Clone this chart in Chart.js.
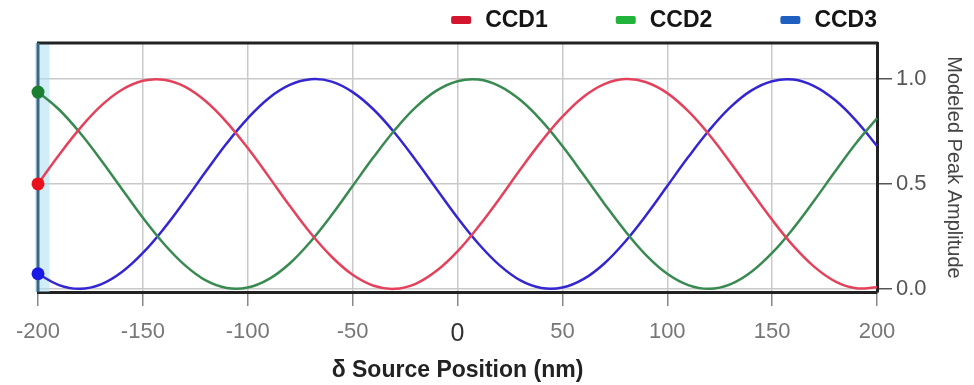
<!DOCTYPE html>
<html>
<head>
<meta charset="utf-8">
<title>Modeled Peak Amplitude</title>
<script src="https://cdn.jsdelivr.net/npm/chart.js@4/dist/chart.umd.min.js"></script>
<style>
  html, body { margin: 0; padding: 0; background: #fff; }
  #wrap { width: 974px; height: 385px; }
</style>
</head>
<body>
<div id="wrap"><canvas id="chart"></canvas></div>
<script>
// values, every 10 nm
const positions = [
  -200, -190, -180, -170, -160, -150, -140, -130, -120, -110,
  -100, -90, -80, -70, -60, -50, -40, -30, -20, -10,
  0, 10, 20, 30, 40, 50, 60, 70, 80, 90,
  100, 110, 120, 130, 140, 150, 160, 170, 180, 190, 200
];
const ccd1 = [
  0.500, 0.638, 0.765, 0.872, 0.949, 0.992, 0.997, 0.964, 0.894, 0.794,
  0.671, 0.535, 0.396, 0.265, 0.153, 0.067, 0.015, 0.000, 0.024, 0.086,
  0.179, 0.297, 0.430, 0.570, 0.703, 0.821, 0.915, 0.976, 1.000, 0.985,
  0.933, 0.847, 0.735, 0.604, 0.465, 0.329, 0.206, 0.106, 0.036, 0.003, 0.008
];
const ccd2 = [
  0.938, 0.855, 0.744, 0.614, 0.476, 0.339, 0.215, 0.113, 0.040, 0.004,
  0.006, 0.046, 0.121, 0.226, 0.352, 0.490, 0.628, 0.756, 0.865, 0.945,
  0.990, 0.998, 0.967, 0.900, 0.802, 0.681, 0.545, 0.406, 0.275, 0.160,
  0.072, 0.018, 0.000, 0.021, 0.080, 0.171, 0.287, 0.420, 0.559, 0.694, 0.813
];
const ccd3 = [
  0.072, 0.018, 0.000, 0.021, 0.080, 0.171, 0.287, 0.420, 0.559, 0.694,
  0.813, 0.909, 0.972, 0.999, 0.988, 0.938, 0.855, 0.744, 0.614, 0.476,
  0.339, 0.215, 0.113, 0.040, 0.004, 0.006, 0.046, 0.121, 0.226, 0.352,
  0.490, 0.628, 0.756, 0.865, 0.945, 0.990, 0.998, 0.967, 0.900, 0.802, 0.681
];
const seriesNames = ['CCD1', 'CCD2', 'CCD3'];
const xTicks = [-200, -150, -100, -50, 0, 50, 100, 150, 200];
const yTicks = [0, 0.5, 1.0];
// highlighted source position strip at the left edge (nm)
const bandRange = [-201.5, -194.5];

const FONT = '"Liberation Sans", Arial, Helvetica, sans-serif';

const lineColors = ['rgb(228, 66, 92)', 'rgb(56, 138, 80)', 'rgb(52, 38, 208)'];
const dotColors = ['#e8121e', '#1b7f32', '#1a1ae6'];
const legendColors = ['#d41530', '#22b33a', '#1f5fbf'];

function toPoints(values) {
  return positions.map((x, i) => ({ x, y: values[i] }));
}

function makeDataset(i, values) {
  return {
    label: seriesNames[i],
    data: toPoints(values),
    borderColor: lineColors[i],
    backgroundColor: legendColors[i],
    borderWidth: 2.5,
    tension: 0.4,
    clip: false,
    pointRadius: ctx => ctx.dataIndex === 0 ? 6.5 : 0,
    pointHoverRadius: 0,
    pointBackgroundColor: dotColors[i],
    pointBorderColor: dotColors[i],
    pointBorderWidth: 0
  };
}

// strip + top/left frame lines
const framePlugin = {
  id: 'frame',
  beforeDatasetsDraw(chart) {
    const { ctx, chartArea: a, scales } = chart;
    const x0 = scales.x.getPixelForValue(bandRange[0]);
    const x1 = scales.x.getPixelForValue(bandRange[1]);
    ctx.save();
    ctx.fillStyle = 'rgba(170, 222, 242, 0.55)';
    ctx.fillRect(x0, a.top, x1 - x0, a.bottom - a.top);
    ctx.lineWidth = 3;
    ctx.strokeStyle = '#222';
    ctx.beginPath();
    ctx.moveTo(a.left - 1, a.top);
    ctx.lineTo(a.right + 1, a.top);
    ctx.stroke();
    ctx.strokeStyle = '#3d6683';
    ctx.beginPath();
    ctx.moveTo(a.left, a.top);
    ctx.lineTo(a.left, a.bottom);
    ctx.stroke();
    ctx.restore();
  }
};

// legend row above the plot, right aligned with the frame
const legendPlugin = {
  id: 'topLegend',
  afterDraw(chart) {
    const { ctx, chartArea } = chart;
    const boxW = 20, boxH = 8, gap = 14, spacing = 68, cy = 20;
    ctx.save();
    ctx.font = 'bold 23px ' + FONT;
    ctx.textBaseline = 'middle';
    const items = chart.data.datasets.map(ds => ({
      text: ds.label,
      color: ds.backgroundColor,
      w: ctx.measureText(ds.label).width
    }));
    const total = items.reduce((s, it) => s + boxW + gap + it.w, 0) + spacing * (items.length - 1);
    let x = chartArea.right - total;
    items.forEach(it => {
      ctx.fillStyle = it.color;
      ctx.beginPath();
      ctx.roundRect(x, cy - boxH / 2, boxW, boxH, 2);
      ctx.fill();
      ctx.fillStyle = '#151515';
      ctx.fillText(it.text, x + boxW + gap, cy + 1);
      x += boxW + gap + it.w + spacing;
    });
    ctx.restore();
  }
};

new Chart(document.getElementById('chart'), {
  type: 'line',
  data: {
    datasets: [makeDataset(0, ccd1), makeDataset(1, ccd2), makeDataset(2, ccd3)]
  },
  options: {
    responsive: true,
    maintainAspectRatio: false,
    animation: false,
    layout: { padding: { top: 43, left: 38, right: 0, bottom: 0 } },
    plugins: {
      legend: { display: false },
      tooltip: { enabled: false }
    },
    scales: {
      x: {
        type: 'linear',
        min: -200,
        max: 200,
        afterBuildTicks: s => { s.ticks = xTicks.map(v => ({ value: v })); },
        afterFit: s => { s.height = 93; },
        border: { color: '#222', width: 3 },
        grid: { color: '#c9c9c9', lineWidth: 1.5, tickColor: '#888', tickLength: 14 },
        ticks: {
          padding: 13,
          color: c => c.tick && c.tick.value === 0 ? '#333' : '#777',
          font: c => ({ family: FONT, size: c.tick && c.tick.value === 0 ? 25 : 22 })
        },
        title: {
          display: true,
          text: 'δ Source Position (nm)',
          color: '#222',
          font: { family: FONT, size: 23, weight: 'bold' },
          padding: { top: 2, bottom: 1 }
        }
      },
      y: {
        type: 'linear',
        position: 'right',
        min: -0.015,
        max: 1.172,
        afterBuildTicks: s => { s.ticks = yTicks.map(v => ({ value: v })); },
        afterFit: s => { s.width = 97; },
        border: { color: '#222', width: 3 },
        grid: { color: '#c9c9c9', lineWidth: 1.5, tickColor: '#555', tickLength: 15 },
        ticks: {
          padding: 4,
          color: '#555',
          font: { family: FONT, size: 22 },
          callback: v => v.toFixed(1)
        },
        title: {
          display: true,
          text: 'Modeled Peak Amplitude',
          color: '#444',
          font: { family: FONT, size: 20 },
          padding: { top: 8, bottom: 4 }
        }
      }
    }
  },
  plugins: [framePlugin, legendPlugin]
});
</script>
</body>
</html>
